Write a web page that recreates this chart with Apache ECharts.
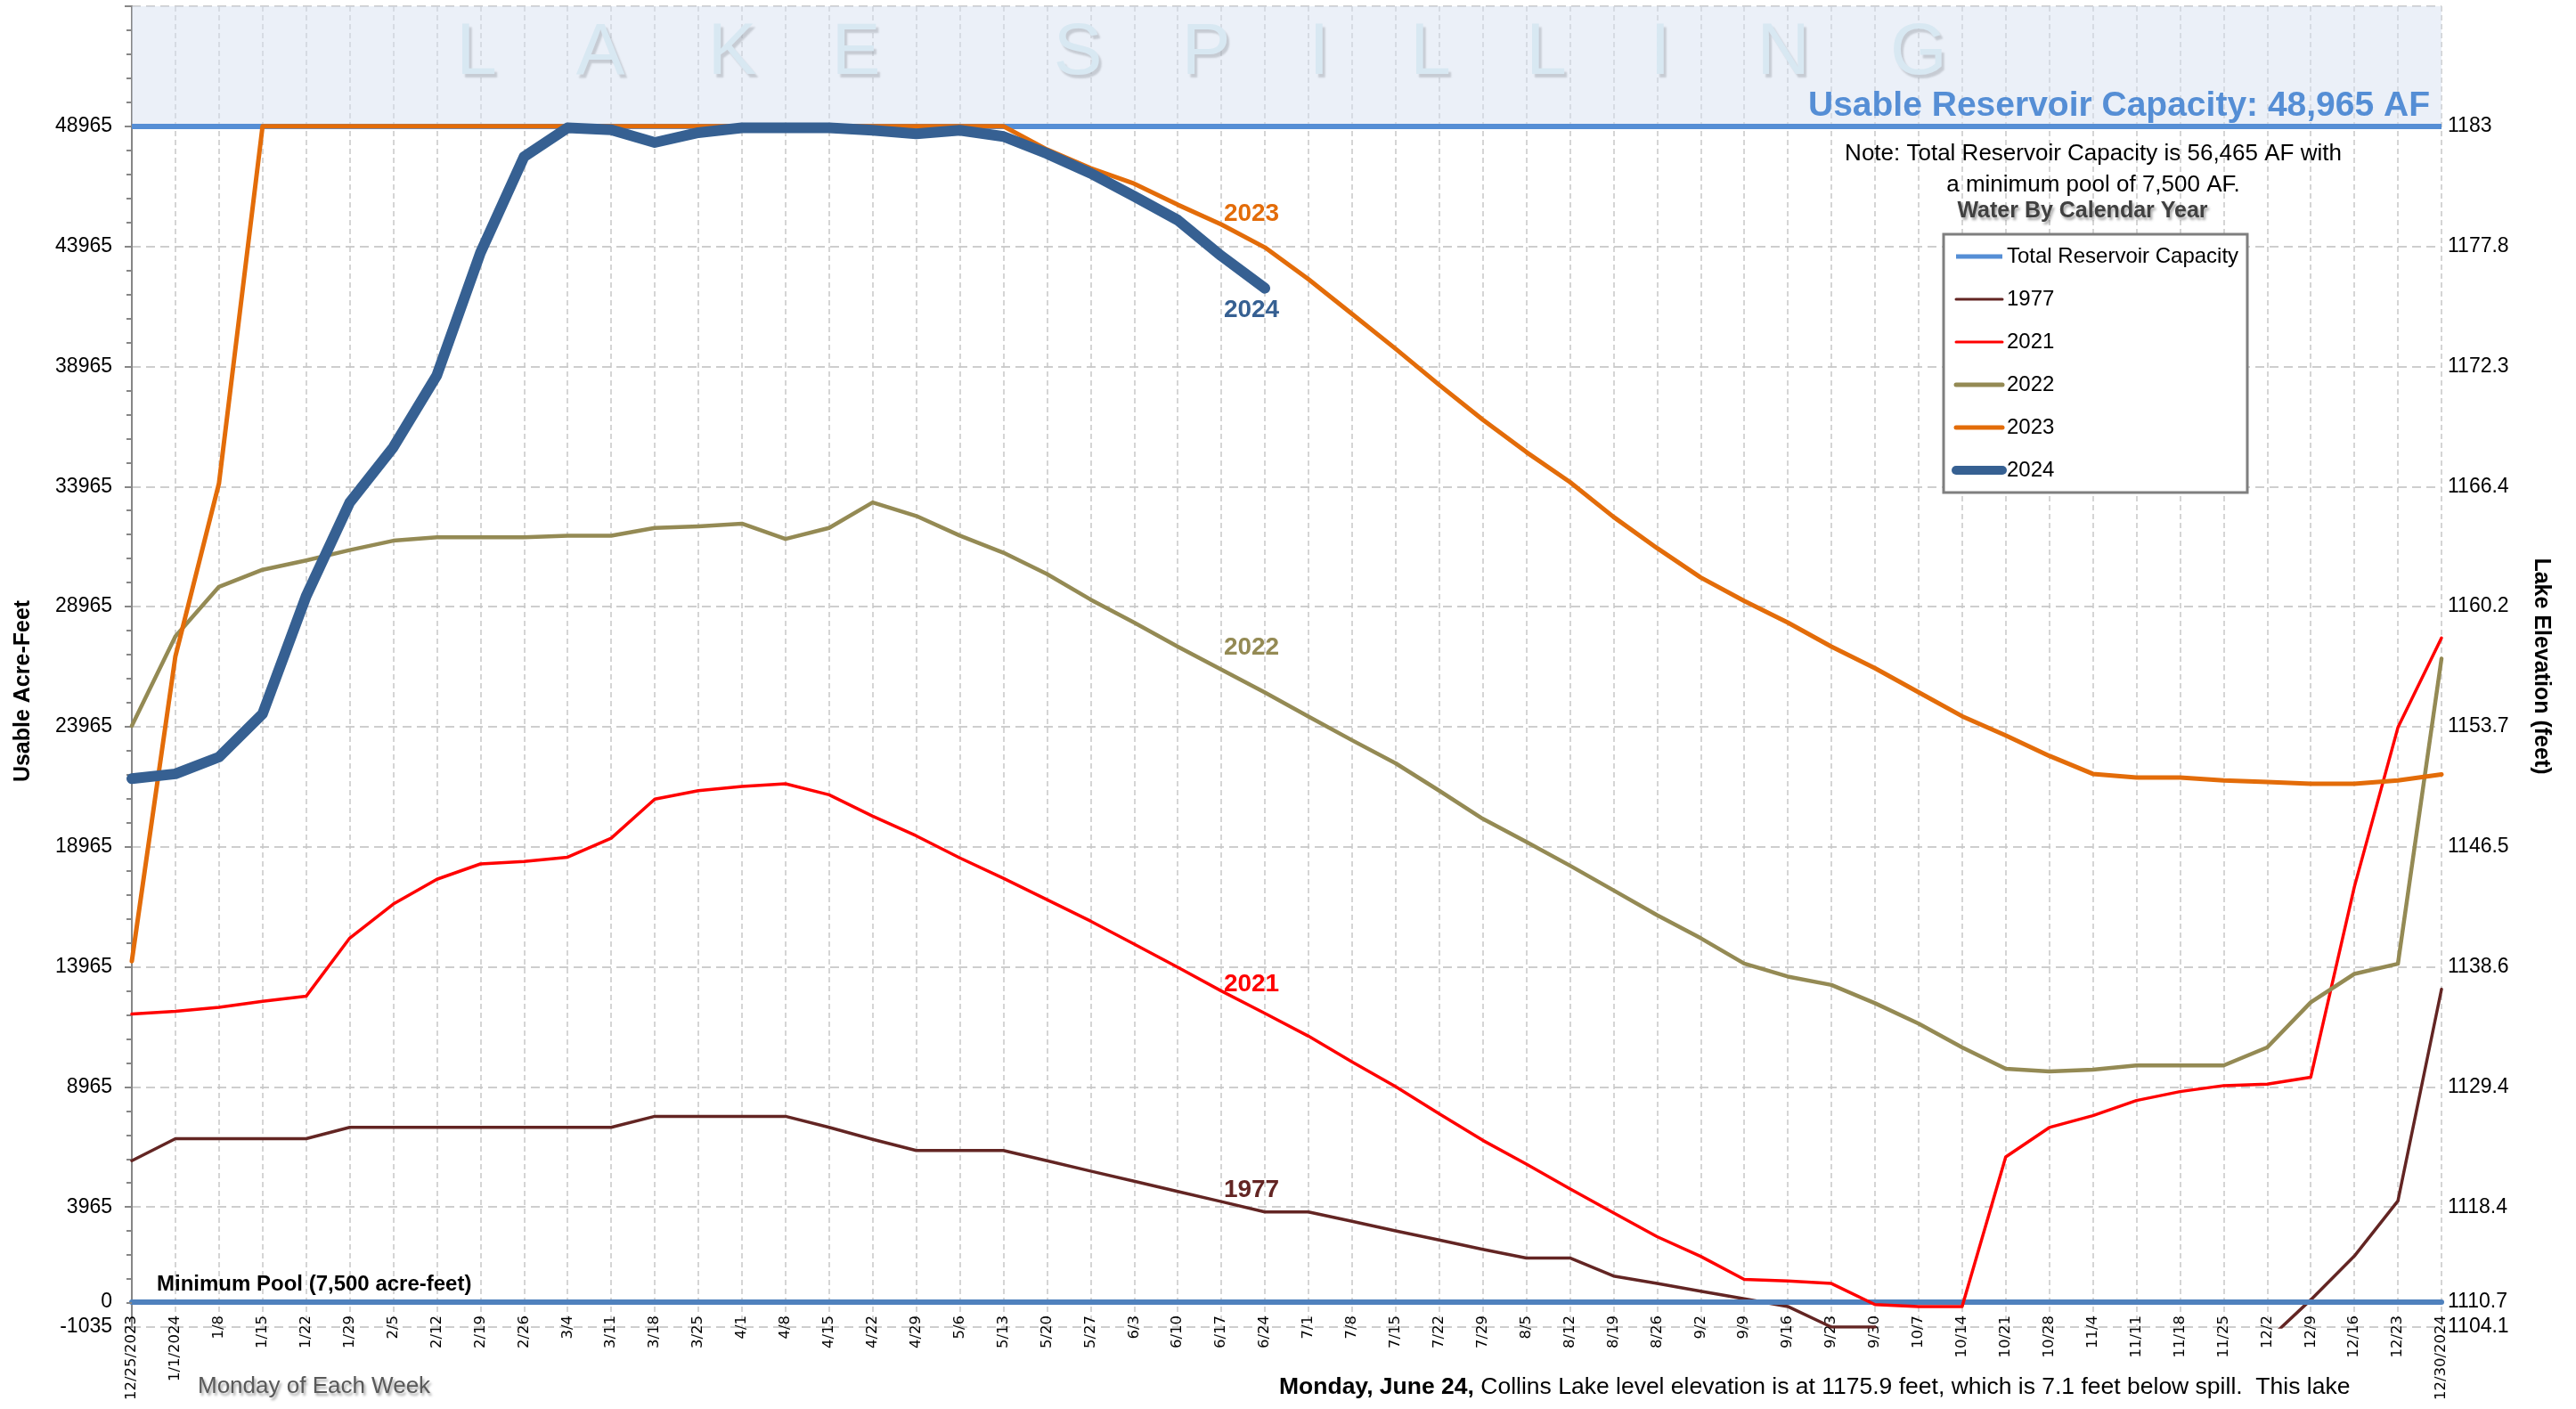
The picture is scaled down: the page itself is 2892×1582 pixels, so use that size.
<!DOCTYPE html>
<html><head><meta charset="utf-8">
<script src="https://cdn.jsdelivr.net/npm/echarts@6/dist/echarts.min.js"></script>
<style>html,body{margin:0;padding:0;background:#fff}#c{width:2892px;height:1582px}</style>
</head><body><div id="c"></div>
<script>
const categories = ['12/25/2023','1/1/2024','1/8','1/15','1/22','1/29','2/5','2/12','2/19','2/26','3/4','3/11','3/18','3/25','4/1','4/8','4/15','4/22','4/29','5/6','5/13','5/20','5/27','6/3','6/10','6/17','6/24','7/1','7/8','7/15','7/22','7/29','8/5','8/12','8/19','8/26','9/2','9/9','9/16','9/23','9/30','10/7','10/14','10/21','10/28','11/4','11/11','11/18','11/25','12/2','12/9','12/16','12/23','12/30/2024'];

const y1977 = [5890,6810,6810,6810,6810,7280,7280,7280,7280,7280,7280,7280,7740,7740,7740,7740,7280,6780,6320,6320,6320,5890,5460,5040,4610,4190,3760,3760,3370,2970,2590,2200,1840,1840,1090,780,460,140,-180,-1035,-1035,null,null,null,null,null,null,null,null,-1600,100,1920,4220,13030];
const y2021 = [12000,12110,12280,12530,12740,15160,16580,17610,18250,18350,18530,19320,20950,21300,21480,21590,21130,20240,19420,18500,17650,16760,15870,14910,13950,12960,12030,11080,10010,8980,7850,6740,5750,4720,3720,2730,1910,950,880,780,-100,-180,-180,6050,7275,7770,8400,8770,9020,9080,9370,17290,23930,27660];
const y2022 = [24000,27730,29790,30500,30890,31320,31710,31850,31850,31850,31920,31920,32240,32310,32420,31780,32240,33305,32740,31920,31210,30320,29260,28300,27300,26345,25390,24390,23400,22440,21300,20130,19170,18180,17150,16120,15160,14100,13560,13210,12450,11600,10610,9720,9610,9680,9860,9860,9860,10610,12490,13670,14090,26800];
const y2023 = [14200,26900,34100,48965,48965,48965,48965,48965,48965,48965,48965,48965,48965,48965,48965,48965,48965,48965,48965,48965,48965,48000,47220,46580,45700,44880,43920,42600,41150,39700,38200,36750,35400,34150,32700,31400,30180,29200,28300,27300,26400,25400,24400,23600,22750,22000,21850,21850,21730,21660,21590,21590,21730,21980];
const y2024 = [21800,22000,22700,24500,29400,33300,35600,38600,43700,47700,48900,48820,48290,48700,48900,48900,48900,48800,48650,48800,48540,47830,47010,46050,45060,43570,42220];

const usableCapacity = 48965;
const minimumPool = 0;
const spillTop = 53965;
const leftTicks = [-1035,0,3965,8965,13965,18965,23965,28965,33965,38965,43965,48965];
const elevTicks = ['1104.1','1110.7','1118.4','1129.4','1138.6','1146.5','1153.7','1160.2','1166.4','1172.3','1177.8','1183'];

const FONT = 'Liberation Sans';
const chart = echarts.init(document.getElementById('c'), null, {renderer:'canvas'});

function yearSeries(name, data, color, width, z, labelVal) {
  return {
    name, type:'line', data, symbol:'none', z,
    lineStyle:{color, width, cap:'round', join:'round'},
    itemStyle:{color},
    emphasis:{disabled:true},
    connectNulls:false,
    markPoint:{
      silent:true, symbol:'circle', symbolSize:0,
      label:{show:true, position:'inside', offset:[-15,0], formatter:name, color, fontFamily:FONT, fontWeight:'bold', fontSize:28},
      data:[{coord:['6/24', labelVal]}]
    }
  };
}

const wmLetters = ['L','A','K','E','S','P','I','L','L','I','N','G'];
const wmX = [535,674,822,961,1210,1354,1481,1606,1736,1864,2002,2154];

const graphics = [];
wmLetters.forEach((ch,i)=>{
  graphics.push({type:'text', x:wmX[i], y:60, z:1, silent:true,
    style:{text:ch, fontFamily:FONT, fontSize:82, fill:'#D9EEF3', align:'center', verticalAlign:'middle',
      textShadowColor:'rgba(70,70,70,0.4)', textShadowOffsetX:3, textShadowOffsetY:4, textShadowBlur:2}});
});
graphics.push(
  {type:'text', x:26, y:776, rotation:Math.PI/2, z:30, style:{text:'Usable Acre-Feet', fontFamily:FONT, fontWeight:'bold', fontSize:25, fill:'#000', align:'center', verticalAlign:'middle'}},
  {type:'text', x:2853, y:748, rotation:-Math.PI/2, z:30, style:{text:'Lake Elevation (feet)', fontFamily:FONT, fontWeight:'bold', fontSize:25, fill:'#000', align:'center', verticalAlign:'middle'}},
  {type:'text', x:2728, y:139, z:30, style:{text:'Usable Reservoir Capacity: 48,965 AF', fontFamily:FONT, fontWeight:'bold', fontSize:39, fill:'#558ED5', align:'right', verticalAlign:'bottom'}},
  {type:'text', x:2350, y:173, z:30, style:{text:'Note: Total Reservoir Capacity is 56,465 AF with', fontFamily:FONT, fontSize:26, fill:'#000', align:'center', verticalAlign:'middle'}},
  {type:'text', x:2350, y:208, z:30, style:{text:'a minimum pool of 7,500 AF.', fontFamily:FONT, fontSize:26, fill:'#000', align:'center', verticalAlign:'middle'}},
  {type:'text', x:2338, y:237, z:30, style:{text:'Water By Calendar Year', fontFamily:FONT, fontWeight:'bold', fontSize:25, fill:'#404040', align:'center', verticalAlign:'middle',
    textShadowColor:'rgba(0,0,0,0.35)', textShadowOffsetX:2, textShadowOffsetY:3, textShadowBlur:3}},
  {type:'rect', z:5, shape:{x:2182, y:263, width:341, height:290}, style:{fill:'#fff', stroke:'#7F7F7F', lineWidth:3}},
  {type:'text', x:176, y:1442, z:30, style:{text:'Minimum Pool (7,500 acre-feet)', fontFamily:FONT, fontWeight:'bold', fontSize:24, fill:'#000', align:'left', verticalAlign:'middle'}},
  {type:'text', x:222, y:1557, z:30, style:{text:'Monday of Each Week', fontFamily:FONT, fontSize:26, fill:'#595959', align:'left', verticalAlign:'middle',
    textShadowColor:'rgba(0,0,0,0.35)', textShadowOffsetX:2, textShadowOffsetY:3, textShadowBlur:3}},
  {type:'text', x:1436, y:1558, z:30, style:{text:'{b|Monday, June 24,} Collins Lake level elevation is at 1175.9 feet, which is 7.1 feet below spill.  This lake',
    fontFamily:FONT, fontSize:26.5, fill:'#000', align:'left', verticalAlign:'middle',
    rich:{b:{fontFamily:FONT, fontSize:26.5, fontWeight:'bold', fill:'#000'}}}}
);

const option = {
  animation:false,
  backgroundColor:'#fff',
  textStyle:{fontFamily:FONT},
  grid:{left:148, right:151, top:7, bottom:92, containLabel:false, outerBoundsMode:'none'},
  legend:{
    data:[
      {name:'Total Reservoir Capacity', lineStyle:{width:5}},
      {name:'1977', lineStyle:{width:3}},
      {name:'2021', lineStyle:{width:3}},
      {name:'2022', lineStyle:{width:5}},
      {name:'2023', lineStyle:{width:5}},
      {name:'2024', lineStyle:{width:10}}
    ],
    orient:'vertical', left:2186, top:271, itemWidth:52, itemHeight:14, itemGap:24,
    selectedMode:false, z:20,
    itemStyle:{opacity:0},
    textStyle:{fontFamily:FONT, fontSize:24, color:'#000', lineHeight:24}
  },
  xAxis:{
    type:'category', data:categories, boundaryGap:false,
    axisLine:{show:true, onZero:true, lineStyle:{color:'#4F81BD', width:6}},
    axisTick:{show:false},
    axisLabel:{rotate:90, align:'right', verticalAlign:'middle', interval:0, margin:-13, fontFamily:'DejaVu Sans', fontSize:16.5, color:'#000'},
    splitLine:{show:true, interval:0, lineStyle:{color:'#C8C8C8', type:[6,4], width:1.5}}
  },
  yAxis:[
    {type:'value', min:-1035, max:spillTop, interval:5000, position:'left',
     axisLine:{show:true, onZero:false, lineStyle:{color:'#868686', width:2}},
     axisTick:{show:true, length:8, lineStyle:{color:'#868686', width:2}},
     minorTick:{show:true, splitNumber:5, length:6, lineStyle:{color:'#868686', width:2}},
     axisLabel:{customValues:leftTicks, formatter:v=>String(v), margin:22, fontFamily:FONT, fontSize:23, color:'#000'},
     splitLine:{show:true, lineStyle:{color:'#BFBFBF', type:[10,6], width:1.5}}
    },
    {type:'value', min:-1035, max:spillTop, interval:5000, position:'right',
     axisLine:{show:false}, axisTick:{show:false}, splitLine:{show:false},
     axisLabel:{customValues:leftTicks, formatter:v=>{const i=leftTicks.indexOf(v); return i>=0?elevTicks[i]:'';}, margin:7, fontFamily:FONT, fontSize:23, color:'#000'}
    }
  ],
  series:[
    {name:'Total Reservoir Capacity', type:'line', data:[], symbol:'none', z:3,
     lineStyle:{color:'#558ED5', width:6}, itemStyle:{color:'#558ED5'},
     markArea:{silent:true, itemStyle:{color:'rgba(215,225,241,0.5)'}, data:[[{yAxis:usableCapacity},{yAxis:spillTop}]]},
     markLine:{silent:true, symbol:['none','none'], label:{show:false}, lineStyle:{color:'#558ED5', width:6, type:'solid'}, data:[{yAxis:usableCapacity}]}
    },
    yearSeries('1977', y1977, '#632523', 3.5, 4, 4660),
    yearSeries('2021', y2021, '#FF0000', 3.5, 5, 13220),
    yearSeries('2022', y2022, '#948A54', 4.5, 6, 27250),
    yearSeries('2023', y2023, '#E36C09', 5, 7, 45330),
    yearSeries('2024', y2024, '#366092', 12, 8, 41290),
    {name:'Minimum Pool', type:'line', data:[], symbol:'none', z:9,
     markLine:{silent:true, symbol:['none','none'], label:{show:false}, lineStyle:{color:'#4F81BD', width:6, type:'solid'}, data:[{yAxis:minimumPool}]}
    }
  ],
  graphic:graphics
};
chart.setOption(option);
</script></body></html>
